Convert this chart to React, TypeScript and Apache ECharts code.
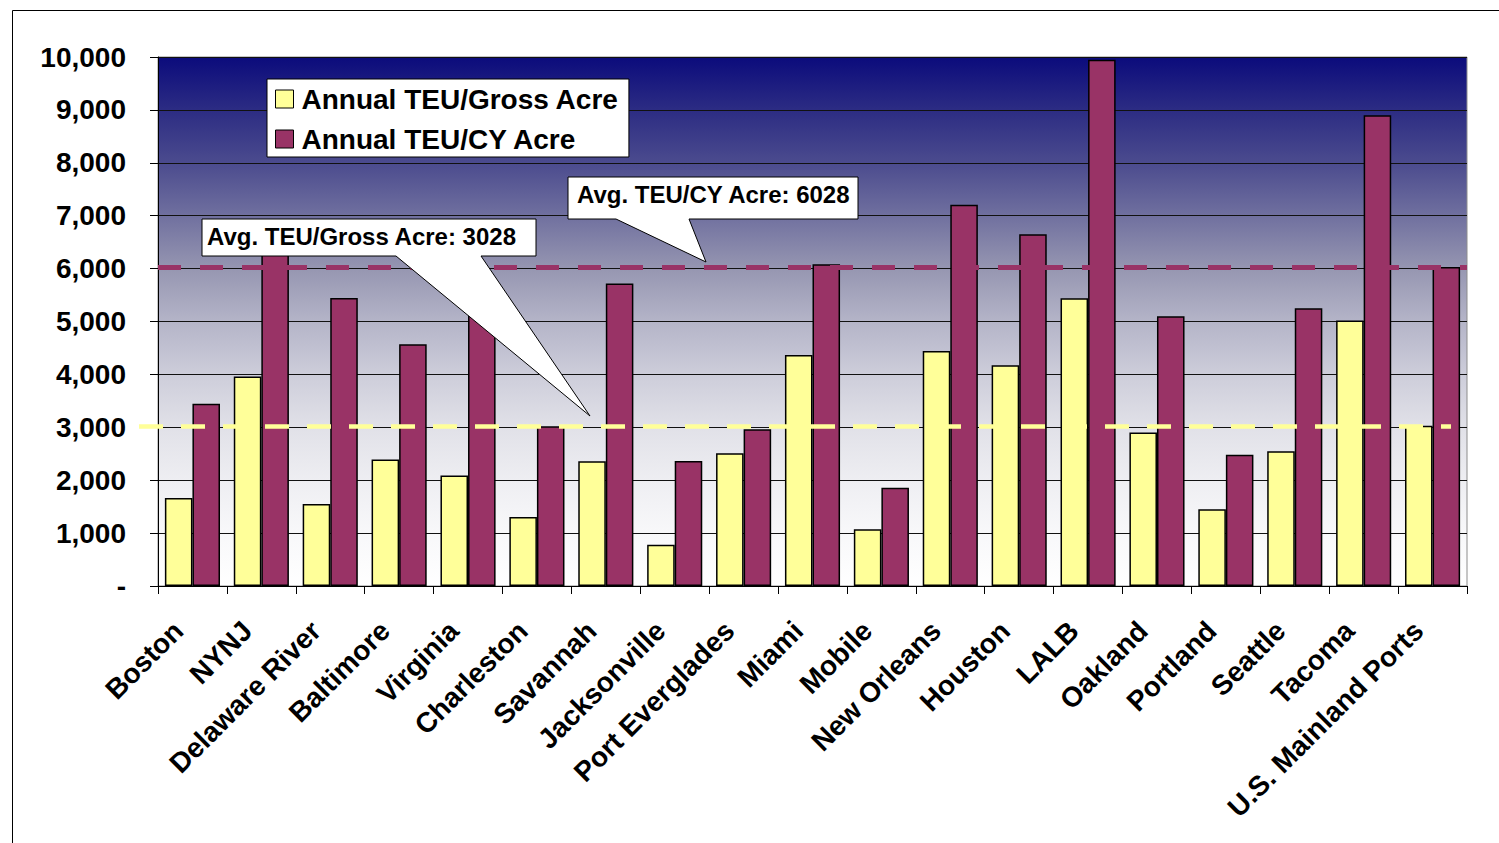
import { useEffect, useRef } from "react";
import * as echarts from "echarts";

// Container throughput per acre, by port
const ports = [
  "Boston",
  "NYNJ",
  "Delaware River",
  "Baltimore",
  "Virginia",
  "Charleston",
  "Savannah",
  "Jacksonville",
  "Port Everglades",
  "Miami",
  "Mobile",
  "New Orleans",
  "Houston",
  "LALB",
  "Oakland",
  "Portland",
  "Seattle",
  "Tacoma",
  "U.S. Mainland Ports",
];

const teuPerGrossAcre = [
  1665, 3960, 1550, 2390, 2090, 1305, 2360, 780, 2510, 4365, 1075, 4440, 4175,
  5440, 2900, 1450, 2545, 5020, 3028,
];

const teuPerCyAcre = [
  3445, 6400, 5445, 4570, 5400, 3020, 5720, 2365, 2965, 6080, 1855, 7205, 6650,
  9950, 5100, 2480, 5250, 8900, 6028,
];

const seriesNames = ["Annual TEU/Gross Acre", "Annual TEU/CY Acre"];

const avgGrossAcre = 3028;
const avgCyAcre = 6028;

const yMin = 0;
const yMax = 10000;
const yStep = 1000;

const FONT = '"Liberation Sans", Arial, Helvetica, sans-serif';
const YELLOW = "#FFFF99";
const MAROON = "#993366";

function formatTick(v: number): string {
  return v === 0 ? "-" : v.toLocaleString("en-US");
}

export default function App() {
  const ref = useRef<HTMLDivElement | null>(null);

  useEffect(() => {
    if (!ref.current) return;
    const chart = echarts.init(ref.current, null, { renderer: "svg" });

    const option: any = {
      animation: false,
      backgroundColor: "#ffffff",
      textStyle: { fontFamily: FONT },
      grid: {
        left: 158,
        top: 57,
        right: 32,
        bottom: 257,
        show: true,
        borderColor: "#8c8c8c",
        borderWidth: 1,
        backgroundColor: {
          type: "linear",
          x: 0,
          y: 0,
          x2: 0,
          y2: 1,
          colorStops: [
            { offset: 0, color: "#0b0b7c" },
            { offset: 0.1, color: "#2c2c83" },
            { offset: 0.2, color: "#4b4b8e" },
            { offset: 0.3, color: "#70709f" },
            { offset: 0.4, color: "#9696b1" },
            { offset: 0.5, color: "#b4b4c8" },
            { offset: 0.6, color: "#cdcdda" },
            { offset: 0.7, color: "#e1e1e8" },
            { offset: 0.8, color: "#eeeef2" },
            { offset: 0.9, color: "#f8f8fa" },
            { offset: 1, color: "#ffffff" },
          ],
        },
      },
      legend: {
        left: 267,
        top: 79,
        orient: "vertical",
        backgroundColor: "#ffffff",
        borderColor: "#000000",
        borderWidth: 1,
        padding: [5, 10, 3, 8],
        itemWidth: 18,
        itemHeight: 18,
        itemGap: 10,
        icon: "rect",
        itemStyle: { borderColor: "#000000", borderWidth: 1 },
        textStyle: {
          fontFamily: FONT,
          fontSize: 28,
          fontWeight: "bold",
          color: "#000000",
          lineHeight: 30,
          padding: [0, 0, 0, 3],
        },
        data: seriesNames,
      },
      xAxis: {
        type: "category",
        data: ports,
        boundaryGap: true,
        axisLine: { show: true, lineStyle: { color: "#000000", width: 1 } },
        axisTick: {
          show: true,
          length: 8,
          alignWithLabel: false,
          lineStyle: { color: "#000000" },
        },
        axisLabel: {
          interval: 0,
          rotate: 45,
          margin: 26,
          padding: [0, 20, 0, 0],
          fontFamily: FONT,
          fontSize: 28,
          fontWeight: "bold",
          color: "#000000",
        },
        splitLine: { show: false },
      },
      yAxis: {
        type: "value",
        min: yMin,
        max: yMax,
        interval: yStep,
        axisLine: { show: true, lineStyle: { color: "#000000", width: 1 } },
        axisTick: { show: true, length: 8, lineStyle: { color: "#000000" } },
        axisLabel: {
          margin: 32,
          fontFamily: FONT,
          fontSize: 28,
          fontWeight: "bold",
          color: "#000000",
          formatter: formatTick,
        },
        splitLine: { show: true, lineStyle: { color: "#111111", width: 1 } },
      },
      series: [
        {
          name: seriesNames[0],
          type: "bar",
          data: teuPerGrossAcre,
          barGap: "0%",
          barCategoryGap: "20%",
          itemStyle: { color: YELLOW, borderColor: "#000000", borderWidth: 1.5 },
          markLine: {
            silent: true,
            symbol: ["none", "none"],
            label: { show: false },
            lineStyle: { color: YELLOW, width: 4.5, type: [24, 18], opacity: 1 },
            data: [
              [
                { coord: [0, avgGrossAcre], x: 139 },
                { coord: [ports.length - 1, avgGrossAcre], x: 1451 },
              ],
            ],
          },
        },
        {
          name: seriesNames[1],
          type: "bar",
          data: teuPerCyAcre,
          barGap: "0%",
          barCategoryGap: "20%",
          itemStyle: { color: MAROON, borderColor: "#000000", borderWidth: 1.5 },
          markLine: {
            silent: true,
            symbol: ["none", "none"],
            label: { show: false },
            lineStyle: { color: MAROON, width: 5, type: [23, 19], opacity: 1 },
            data: [{ yAxis: avgCyAcre }],
          },
        },
      ],
      graphic: [
        // frame around the chart
        {
          type: "rect",
          z: 0,
          silent: true,
          shape: { x: 12.5, y: 10.5, width: 1600, height: 1000 },
          style: { fill: "transparent", stroke: "#000000", lineWidth: 1 },
        },
        // callout for the CY-acre average
        {
          type: "polygon",
          z: 100,
          silent: true,
          shape: {
            points: [
              [568, 177],
              [858, 177],
              [858, 219],
              [689, 219],
              [706, 262],
              [616, 219],
              [568, 219],
            ],
          },
          style: { fill: "#ffffff", stroke: "#000000", lineWidth: 1 },
        },
        {
          type: "text",
          z: 101,
          silent: true,
          style: {
            text: `Avg. TEU/CY Acre: ${avgCyAcre}`,
            x: 577,
            y: 194,
            fill: "#000000",
            font: `bold 24px ${FONT}`,
            textVerticalAlign: "middle",
          },
        },
        // callout for the gross-acre average
        {
          type: "polygon",
          z: 100,
          silent: true,
          shape: {
            points: [
              [202, 219],
              [536, 219],
              [536, 256],
              [481, 256],
              [590, 416],
              [396, 256],
              [202, 256],
            ],
          },
          style: { fill: "#ffffff", stroke: "#000000", lineWidth: 1 },
        },
        {
          type: "text",
          z: 101,
          silent: true,
          style: {
            text: `Avg. TEU/Gross Acre: ${avgGrossAcre}`,
            x: 207,
            y: 236,
            fill: "#000000",
            font: `bold 24px ${FONT}`,
            textVerticalAlign: "middle",
          },
        },
      ],
    };

    chart.setOption(option);
    return () => {
      chart.dispose();
    };
  }, []);

  return (
    <div
      ref={ref}
      style={{
        position: "fixed",
        left: 0,
        top: 0,
        width: 1499,
        height: 843,
        background: "#ffffff",
      }}
    />
  );
}
